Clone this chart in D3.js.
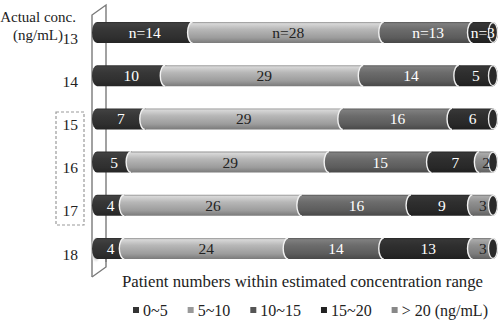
<!DOCTYPE html>
<html><head><meta charset="utf-8">
<script src="https://cdn.jsdelivr.net/npm/d3@7"></script>
<style>body{margin:0;background:#fff}svg{display:block}text{font-family:"Liberation Serif","Times New Roman",serif}</style>
</head><body><svg id="c" width="499" height="321"></svg>
<script>
const categories = ["13","14","15","16","17","18"];
const seriesNames = ["0~5","5~10","10~15","15~20","> 20 (ng/mL)"];
const s0_5   = [14,10,7,5,4,4];
const s5_10  = [28,29,29,29,26,24];
const s10_15 = [13,14,16,15,16,14];
const s15_20 = [3,5,6,7,9,13];
const s20    = [0,0,0,2,3,3];
const seriesValues = [s0_5,s5_10,s10_15,s15_20,s20];
const seriesColors = ["#2f2f2f","#9c9c9c","#5c5c5c","#282828","#7b7b7b"];
const legendColors = ["#333","#999","#555","#222","#888"];
const textColors = ["#fff","#222","#fff","#fff","#222"];
const yTitle = ["Actual conc.","(ng/mL)"];
const xTitle = "Patient numbers within estimated concentration range";

const svg = d3.select("#c");
const total = d3.max(categories.map((c,i)=>d3.sum(seriesValues,s=>s[i])));
const x = d3.scaleLinear().domain([0,total]).range([97,493]);
const y = d3.scalePoint().domain(categories).range([32.5,248.5]);
const bh = 21, rx = 5;

const defs = svg.append("defs");
seriesColors.forEach((c,i)=>{
  const g = defs.append("linearGradient").attr("id","g"+i).attr("x1",0).attr("y1",0).attr("x2",0).attr("y2",1);
  const b = d3.color(c);
  [[0,b.darker(0.2)],[0.08,b.brighter(0.9)],[0.35,b.brighter(0.45)],[0.75,b],[1,b.darker(0.7)]]
    .forEach(([o,col])=>g.append("stop").attr("offset",o).attr("stop-color",col.formatHex()));
});
const rg = defs.append("radialGradient").attr("id","sh");
rg.append("stop").attr("offset",0).attr("stop-color","#888");
rg.append("stop").attr("offset",0.6).attr("stop-color","#bbb");
rg.append("stop").attr("offset",1).attr("stop-color","#fff").attr("stop-opacity",0);

// 3D axis wall
const wall = svg.append("g").attr("fill","none").attr("stroke","#7a7a7a").attr("stroke-width",1.4);
wall.append("path").attr("d","M92,277 L92,15 L106,5 L106,262");
wall.append("path").attr("d","M92,277 L106,267 L106,258");
svg.append("ellipse").attr("cx",96).attr("cy",y("18")+1).attr("rx",6).attr("ry",14).attr("fill","url(#sh)");

// dashed box
svg.append("rect").attr("x",56).attr("y",112).attr("width",28).attr("height",113)
  .attr("fill","none").attr("stroke","#9a9a9a").attr("stroke-dasharray","3,2").attr("stroke-width",1.2);

// bars
const rows = categories.map((c,i)=>{
  let acc=0; const segs=[];
  seriesValues.forEach((s,k)=>{ if(s[i]>0){segs.push({k,v:s[i],x0:acc,x1:acc+s[i]});} acc+=s[i]; });
  return {c,i,segs,total:acc};
});
const gBars = svg.append("g");
rows.forEach(r=>{
  const cy = y(r.c), t = cy-bh/2, b = cy+bh/2, ry = bh/2;
  r.segs.forEach((s,j)=>{
    const X0=x(s.x0), X1=x(s.x1);
    gBars.append("path")
      .attr("d",`M${X0},${t} L${X1},${t} A${rx},${ry} 0 0 1 ${X1},${b} L${X0},${b} A${rx},${ry} 0 0 1 ${X0},${t}Z`)
      .attr("fill",`url(#g${s.k})`);
    if(j>0) gBars.append("path").attr("d",`M${X0},${t} A${rx},${ry} 0 0 0 ${X0},${b}`)
      .attr("fill","none").attr("stroke","#f2f2f2").attr("stroke-width",1.4);
  });
  gBars.append("ellipse").attr("cx",x(r.total)).attr("cy",cy).attr("rx",rx-0.5).attr("ry",ry-0.5)
    .attr("fill","#2a2a2a").attr("stroke","#e8e8e8").attr("stroke-width",1.3);
  r.segs.forEach(s=>{
    gBars.append("text").attr("x",(x(s.x0)+x(s.x1))/2).attr("y",cy+5.5)
      .attr("text-anchor","middle").attr("font-size",15.5).attr("fill",textColors[s.k])
      .text((r.i===0?"n=":"")+s.v);
  });
});

// y labels
svg.append("g").selectAll("text").data(categories).join("text")
  .attr("x",78).attr("y",d=>y(d)+11).attr("text-anchor","end").attr("font-size",15.5).attr("fill","#222").text(d=>d);
svg.append("text").attr("x",76).attr("y",22).attr("text-anchor","end").attr("font-size",15).attr("fill","#222").text(yTitle[0]);
svg.append("text").attr("x",63).attr("y",40).attr("text-anchor","end").attr("font-size",15).attr("fill","#222").text(yTitle[1]);

// x title
svg.append("text").attr("x",302.5).attr("y",287).attr("text-anchor","middle").attr("font-size",16.8).attr("fill","#222").text(xTitle);

// legend
const lg = svg.append("g");
let lx = 133;
seriesNames.forEach((n,k)=>{
  lg.append("rect").attr("x",lx).attr("y",307).attr("width",6).attr("height",6).attr("fill",legendColors[k]);
  const t = lg.append("text").attr("x",lx+10).attr("y",315.5).attr("font-size",16).attr("fill","#222").text(n);
  lx += 10 + t.node().getComputedTextLength() + 20;
});
</script></body></html>
